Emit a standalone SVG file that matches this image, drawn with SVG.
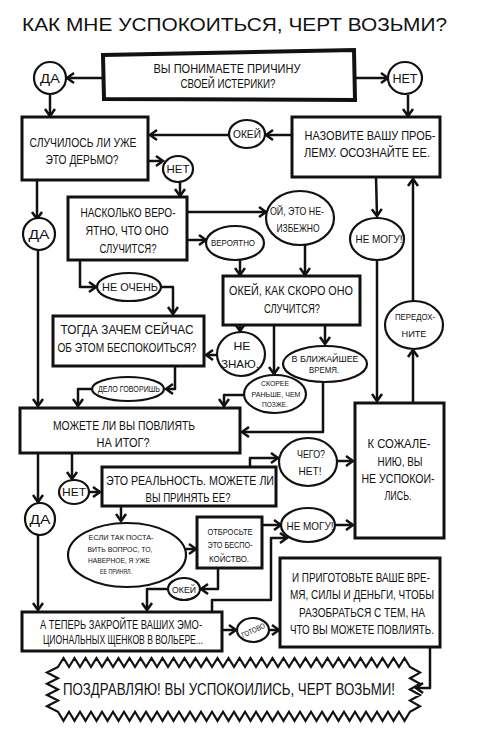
<svg xmlns="http://www.w3.org/2000/svg" width="477" height="732" viewBox="0 0 477 732">
<style>
text{font-family:"Liberation Sans","DejaVu Sans",sans-serif;fill:#111;text-anchor:middle}
.t13{font-size:12.5px}
.t11{font-size:11px}
.t9{font-size:9px}
.t8{font-size:7.5px}
.box{fill:#fff;stroke:#111;stroke-width:3}
.oval{fill:#fff;stroke:#111;stroke-width:2.2}
.ln{fill:none;stroke:#111;stroke-width:2.5;stroke-linejoin:round;marker-end:url(#ah)}
</style>
<defs>
<marker id="ah" markerUnits="userSpaceOnUse" markerWidth="12" markerHeight="12" refX="10" refY="6" orient="auto" overflow="visible">
<path d="M3,1 L10,6 L3,11" fill="none" stroke="#111" stroke-width="2.5" stroke-linejoin="miter"/>
</marker>
</defs>
<rect width="477" height="732" fill="#fff"/>
<text x="22" y="31" style="font-size:19px;text-anchor:start" textLength="425" lengthAdjust="spacingAndGlyphs">КАК МНЕ УСПОКОИТЬСЯ, ЧЕРТ ВОЗЬМИ?</text>

<g id="connectors">
<path class="ln" d="M103,78 L67,78"/>
<path class="ln" d="M354,78 L388,78"/>
<path class="ln" d="M50,94 L50,116"/>
<path class="ln" d="M408,95 L408,116"/>
<path class="ln" d="M292,135 L266,135"/>
<path class="ln" d="M229,135 L150,135"/>
<path class="ln" d="M148,161 L163,161"/>
<path class="ln" d="M180,181 L180,196"/>
<path class="ln" d="M37,180 L37,219"/>
<path class="ln" d="M38,250 L38,406"/>
<path class="ln" d="M187,212 L266,212"/>
<path class="ln" d="M187,240 L206,240"/>
<path class="ln" d="M240,260 L240,275"/>
<path class="ln" d="M305,245 L305,275"/>
<path class="ln" d="M80,260 L80,287 L96,287"/>
<path class="ln" d="M161,287 L173,287 L173,314"/>
<path class="ln" d="M376,177 L377,216"/>
<path class="ln" d="M377,260 L377,401"/>
<path class="ln" d="M413,403 L413,350"/>
<path class="ln" d="M413,302 L413,179"/>
<path class="ln" d="M240,325 L240,331"/>
<path class="ln" d="M218,355 L206,355"/>
<path class="ln" d="M274,325 L274,374"/>
<path class="ln" d="M244,395 L224,395 L224,406"/>
<path class="ln" d="M325,325 L325,344"/>
<path class="ln" d="M323,382 L323,432 L242,432"/>
<path class="ln" d="M175,366 L175,389 L166,389"/>
<path class="ln" d="M92,389 L78,389 L78,406"/>
<path class="ln" d="M72,453 L72,479"/>
<path class="ln" d="M89,492 L100,492"/>
<path class="ln" d="M38,453 L38,502"/>
<path class="ln" d="M38,535 L38,610"/>
<path class="ln" d="M250,467 L250,458 L278,458"/>
<path class="ln" d="M337,461 L353,461"/>
<path class="ln" d="M121,506 L121,521"/>
<path class="ln" d="M186,549 L196,549"/>
<path class="ln" d="M262,525 L281,525"/>
<path class="ln" d="M335,525 L353,525"/>
<path class="ln" d="M218,568 L218,589 L201,589"/>
<path class="ln" d="M168,589 L147,589 L147,610"/>
<path class="ln" d="M212,612 L212,600 L271,600 L271,538 L287,538"/>
<path class="ln" d="M222,630 L236,630"/>
<path class="ln" d="M269,630 L279,630"/>
<path class="ln" d="M430,647 L430,688 L416,688"/>
</g>

<g id="q-understand">
<path d="M103,55 L354,50 L355,100 L104,99 Z" fill="#fff" stroke="#111" stroke-width="4"/>
<text class="t13" x="227" y="73" textLength="147" lengthAdjust="spacingAndGlyphs">ВЫ ПОНИМАЕТЕ ПРИЧИНУ</text>
<text class="t13" x="228" y="88" textLength="95" lengthAdjust="spacingAndGlyphs">СВОЕЙ ИСТЕРИКИ?</text>
</g>
<g id="yes1"><ellipse class="oval" cx="50" cy="78" rx="16" ry="16"/><text class="t13" x="50" y="83" textLength="20" lengthAdjust="spacingAndGlyphs">ДА</text></g>
<g id="no1"><ellipse class="oval" cx="405" cy="78" rx="17" ry="16"/><text class="t13" x="405" y="83" textLength="25" lengthAdjust="spacingAndGlyphs">НЕТ</text></g>

<g id="q-happened">
<rect class="box" x="22" y="117" width="126" height="63"/>
<text class="t13" x="83" y="147" textLength="107" lengthAdjust="spacingAndGlyphs">СЛУЧИЛОСЬ ЛИ УЖЕ</text>
<text class="t13" x="82" y="164" textLength="73" lengthAdjust="spacingAndGlyphs">ЭТО ДЕРЬМО?</text>
</g>
<g id="okay1"><ellipse class="oval" cx="247" cy="134" rx="18" ry="14"/><text class="t11" x="247" y="138" textLength="28" lengthAdjust="spacingAndGlyphs">ОКЕЙ</text></g>
<g id="name-problem">
<rect class="box" x="292" y="117" width="148" height="60"/>
<text class="t13" x="370" y="140" textLength="131" lengthAdjust="spacingAndGlyphs">НАЗОВИТЕ ВАШУ ПРОБ-</text>
<text class="t13" x="367" y="157" textLength="126" lengthAdjust="spacingAndGlyphs">ЛЕМУ. ОСОЗНАЙТЕ ЕЕ.</text>
</g>
<g id="no2"><ellipse class="oval" cx="178" cy="169" rx="15" ry="13"/><text class="t11" x="178" y="173" textLength="23" lengthAdjust="spacingAndGlyphs">НЕТ</text></g>
<g id="yes2"><ellipse class="oval" cx="39" cy="234" rx="16" ry="16"/><text class="t13" x="39" y="239" textLength="21" lengthAdjust="spacingAndGlyphs">ДА</text></g>

<g id="q-likely">
<rect class="box" x="68" y="197" width="119" height="63"/>
<text class="t13" x="128" y="217" textLength="95" lengthAdjust="spacingAndGlyphs">НАСКОЛЬКО ВЕРО-</text>
<text class="t13" x="127" y="235" textLength="83" lengthAdjust="spacingAndGlyphs">ЯТНО, ЧТО ОНО</text>
<text class="t13" x="128" y="253" textLength="57" lengthAdjust="spacingAndGlyphs">СЛУЧИТСЯ?</text>
</g>
<g id="inevitable"><ellipse class="oval" cx="300" cy="218" rx="34" ry="27"/>
<text class="t11" x="297" y="215" textLength="54" lengthAdjust="spacingAndGlyphs">ОЙ, ЭТО НЕ-</text>
<text class="t11" x="298" y="232" textLength="43" lengthAdjust="spacingAndGlyphs">ИЗБЕЖНО</text></g>
<g id="likely"><ellipse class="oval" cx="235" cy="243" rx="29" ry="17"/><text class="t9" x="233" y="246" textLength="44" lengthAdjust="spacingAndGlyphs">ВЕРОЯТНО</text></g>
<g id="cant1"><ellipse class="oval" cx="377" cy="239" rx="27" ry="21"/><text class="t11" x="379" y="243" textLength="47" lengthAdjust="spacingAndGlyphs">НЕ МОГУ!</text></g>
<g id="not-very"><ellipse class="oval" cx="129" cy="287" rx="32" ry="14"/><text class="t11" x="130" y="291" textLength="56" lengthAdjust="spacingAndGlyphs">НЕ ОЧЕНЬ</text></g>

<g id="q-how-soon">
<rect class="box" x="223" y="276" width="137" height="49"/>
<text class="t13" x="291" y="295" textLength="124" lengthAdjust="spacingAndGlyphs">ОКЕЙ, КАК СКОРО ОНО</text>
<text class="t13" x="292" y="313" textLength="56" lengthAdjust="spacingAndGlyphs">СЛУЧИТСЯ?</text>
</g>
<g id="breathe"><ellipse class="oval" cx="414" cy="325" rx="29" ry="24"/>
<text class="t9" x="415" y="320" textLength="40" lengthAdjust="spacingAndGlyphs">ПЕРЕДОХ-</text>
<text class="t9" x="414" y="337" textLength="25" lengthAdjust="spacingAndGlyphs">НИТЕ</text></g>

<g id="why-worry">
<rect class="box" x="53" y="316" width="151" height="50"/>
<text class="t13" x="127" y="334" textLength="133" lengthAdjust="spacingAndGlyphs">ТОГДА ЗАЧЕМ СЕЙЧАС</text>
<text class="t13" x="127" y="352" textLength="139" lengthAdjust="spacingAndGlyphs">ОБ ЭТОМ БЕСПОКОИТЬСЯ?</text>
</g>
<g id="dont-know"><ellipse class="oval" cx="241" cy="354" rx="24" ry="22"/>
<text class="t11" x="242" y="350" textLength="17" lengthAdjust="spacingAndGlyphs">НЕ</text>
<text class="t11" x="240" y="368" textLength="38" lengthAdjust="spacingAndGlyphs">ЗНАЮ.</text></g>
<g id="sooner"><ellipse class="oval" cx="275" cy="394" rx="31" ry="19"/>
<text class="t8" x="275" y="386" textLength="28" lengthAdjust="spacingAndGlyphs">СКОРЕЕ</text>
<text class="t8" x="276" y="397" textLength="49" lengthAdjust="spacingAndGlyphs">РАНЬШЕ, ЧЕМ</text>
<text class="t8" x="275" y="407" textLength="26" lengthAdjust="spacingAndGlyphs">ПОЗЖЕ.</text></g>
<g id="soon"><ellipse class="oval" cx="325" cy="364" rx="42" ry="18"/>
<text class="t9" x="325" y="362" textLength="67" lengthAdjust="spacingAndGlyphs">В БЛИЖАЙШЕЕ</text>
<text class="t9" x="324" y="373" textLength="30" lengthAdjust="spacingAndGlyphs">ВРЕМЯ.</text></g>
<g id="right-you-are"><ellipse class="oval" cx="128" cy="389" rx="36" ry="12"/><text x="129" y="392" style="font-size:8.5px" textLength="62" lengthAdjust="spacingAndGlyphs">ДЕЛО ГОВОРИШЬ</text></g>

<g id="q-control">
<rect class="box" x="20" y="408" width="220" height="45"/>
<text class="t13" x="124" y="430" textLength="142" lengthAdjust="spacingAndGlyphs">МОЖЕТЕ ЛИ ВЫ ПОВЛИЯТЬ</text>
<text class="t13" x="123" y="447" textLength="53" lengthAdjust="spacingAndGlyphs">НА ИТОГ?</text>
</g>
<g id="sorry">
<rect class="box" x="355" y="403" width="89" height="135"/>
<text class="t13" x="399" y="448" textLength="63" lengthAdjust="spacingAndGlyphs">К СОЖАЛЕ-</text>
<text class="t13" x="400" y="466" textLength="45" lengthAdjust="spacingAndGlyphs">НИЮ, ВЫ</text>
<text class="t13" x="398" y="483" textLength="73" lengthAdjust="spacingAndGlyphs">НЕ УСПОКОИ-</text>
<text class="t13" x="398" y="500" textLength="27" lengthAdjust="spacingAndGlyphs">ЛИСЬ.</text>
</g>
<g id="no3"><ellipse class="oval" cx="74" cy="492" rx="15" ry="12"/><text class="t11" x="74" y="496" textLength="24" lengthAdjust="spacingAndGlyphs">НЕТ</text></g>
<g id="yes3"><ellipse class="oval" cx="40" cy="519" rx="15" ry="16"/><text class="t13" x="40" y="524" textLength="21" lengthAdjust="spacingAndGlyphs">ДА</text></g>
<g id="q-accept">
<rect class="box" x="102" y="467" width="174" height="39"/>
<text class="t13" x="190" y="485" textLength="168" lengthAdjust="spacingAndGlyphs">ЭТО РЕАЛЬНОСТЬ. МОЖЕТЕ ЛИ</text>
<text class="t13" x="188" y="502" textLength="85" lengthAdjust="spacingAndGlyphs">ВЫ ПРИНЯТЬ ЕЕ?</text>
</g>
<g id="what-no"><ellipse class="oval" cx="308" cy="462" rx="29" ry="24"/>
<text class="t11" x="311" y="458" textLength="28" lengthAdjust="spacingAndGlyphs">ЧЕГО?</text>
<text class="t11" x="310" y="475" textLength="23" lengthAdjust="spacingAndGlyphs">НЕТ!</text></g>
<g id="accepted"><ellipse class="oval" cx="127" cy="555" rx="59" ry="32"/>
<text class="t8" x="121" y="540" textLength="65" lengthAdjust="spacingAndGlyphs">ЕСЛИ ТАК ПОСТА-</text>
<text class="t8" x="120" y="552" textLength="65" lengthAdjust="spacingAndGlyphs">ВИТЬ ВОПРОС, ТО,</text>
<text class="t8" x="119" y="563" textLength="62" lengthAdjust="spacingAndGlyphs">НАВЕРНОЕ, Я УЖЕ</text>
<text class="t8" x="116" y="574" textLength="32" lengthAdjust="spacingAndGlyphs">ЕЕ ПРИНЯЛ.</text></g>
<g id="let-go">
<rect class="box" x="197" y="517" width="65" height="51"/>
<text class="t9" x="230" y="535" textLength="45" lengthAdjust="spacingAndGlyphs">ОТБРОСЬТЕ</text>
<text class="t9" x="230" y="548" textLength="45" lengthAdjust="spacingAndGlyphs">ЭТО БЕСПО-</text>
<text class="t9" x="229" y="562" textLength="40" lengthAdjust="spacingAndGlyphs">КОЙСТВО.</text>
</g>
<g id="cant2"><ellipse class="oval" cx="308" cy="525" rx="27" ry="17"/><text class="t11" x="310" y="530" textLength="47" lengthAdjust="spacingAndGlyphs">НЕ МОГУ!</text></g>
<g id="okay2"><ellipse class="oval" cx="184" cy="589" rx="16" ry="11"/><text class="t9" x="184" y="593" textLength="24" lengthAdjust="spacingAndGlyphs">ОКЕЙ</text></g>

<g id="puppies">
<rect class="box" x="22" y="612" width="200" height="39"/>
<text class="t13" x="121" y="629" textLength="162" lengthAdjust="spacingAndGlyphs">А ТЕПЕРЬ ЗАКРОЙТЕ ВАШИХ ЭМО-</text>
<text class="t13" x="123" y="644" textLength="160" lengthAdjust="spacingAndGlyphs">ЦИОНАЛЬНЫХ ЩЕНКОВ В ВОЛЬЕРЕ...</text>
</g>
<g id="done"><ellipse class="oval" cx="253" cy="630" rx="16" ry="12"/><text class="t8" x="253" y="633" textLength="25" lengthAdjust="spacingAndGlyphs" transform="rotate(-25 253 630)">ГОТОВО</text></g>
<g id="prepare">
<rect class="box" x="280" y="558" width="160" height="89"/>
<text class="t13" x="361" y="582" textLength="138" lengthAdjust="spacingAndGlyphs">И ПРИГОТОВЬТЕ ВАШЕ ВРЕ-</text>
<text class="t13" x="362" y="599" textLength="144" lengthAdjust="spacingAndGlyphs">МЯ, СИЛЫ И ДЕНЬГИ, ЧТОБЫ</text>
<text class="t13" x="362" y="617" textLength="126" lengthAdjust="spacingAndGlyphs">РАЗОБРАТЬСЯ С ТЕМ, НА</text>
<text class="t13" x="362" y="634" textLength="144" lengthAdjust="spacingAndGlyphs">ЧТО ВЫ МОЖЕТЕ ПОВЛИЯТЬ.</text>
</g>

<g id="congrats">
<path d="M58,667 l5.5,-9 l5.5,9 l5.5,-9 l5.5,9 l5.5,-9 l5.5,9 l5.5,-9 l5.5,9 l5.5,-9 l5.5,9 l5.5,-9 l5.5,9 l5.5,-9 l5.5,9 l5.5,-9 l5.5,9 l5.5,-9 l5.5,9 l5.5,-9 l5.5,9 l5.5,-9 l5.5,9 l5.5,-9 l5.5,9 l5.5,-9 l5.5,9 l5.5,-9 l5.5,9 l5.5,-9 l5.5,9 l5.5,-9 l5.5,9 l5.5,-9 l5.5,9 l5.5,-9 l5.5,9 l5.5,-9 l5.5,9 l5.5,-9 l5.5,9 l5.5,-9 l5.5,9 l5.5,-9 l5.5,9 l5.5,-9 l5.5,9 l5.5,-9 l5.5,9 l5.5,-9 l5.5,9 l5.5,-9 l5.5,9 l5.5,-9 l5.5,9 l5.5,-9 l5.5,9 l5.5,-9 l5.5,9 l5.5,-9 l5.5,9 l5.5,-9 l5.5,9 l5.5,-9 l5.5,9 l10,5.6 l-10,5.6 l10,5.6 l-10,5.6 l10,5.6 l-10,5.6 l10,5.6 l-10,5.6 l-5.5,9 l-5.5,-9 l-5.5,9 l-5.5,-9 l-5.5,9 l-5.5,-9 l-5.5,9 l-5.5,-9 l-5.5,9 l-5.5,-9 l-5.5,9 l-5.5,-9 l-5.5,9 l-5.5,-9 l-5.5,9 l-5.5,-9 l-5.5,9 l-5.5,-9 l-5.5,9 l-5.5,-9 l-5.5,9 l-5.5,-9 l-5.5,9 l-5.5,-9 l-5.5,9 l-5.5,-9 l-5.5,9 l-5.5,-9 l-5.5,9 l-5.5,-9 l-5.5,9 l-5.5,-9 l-5.5,9 l-5.5,-9 l-5.5,9 l-5.5,-9 l-5.5,9 l-5.5,-9 l-5.5,9 l-5.5,-9 l-5.5,9 l-5.5,-9 l-5.5,9 l-5.5,-9 l-5.5,9 l-5.5,-9 l-5.5,9 l-5.5,-9 l-5.5,9 l-5.5,-9 l-5.5,9 l-5.5,-9 l-5.5,9 l-5.5,-9 l-5.5,9 l-5.5,-9 l-5.5,9 l-5.5,-9 l-5.5,9 l-5.5,-9 l-5.5,9 l-5.5,-9 l-5.5,9 l-5.5,-9 l-11,-5.6 l11,-5.6 l-11,-5.6 l11,-5.6 l-11,-5.6 l11,-5.6 l-11,-5.6 l11,-5.6 Z" fill="#fff" stroke="#111" stroke-width="2.2" stroke-linejoin="miter"/>
<text x="229" y="695" style="font-size:16px" textLength="332" lengthAdjust="spacingAndGlyphs">ПОЗДРАВЛЯЮ! ВЫ УСПОКОИЛИСЬ, ЧЕРТ ВОЗЬМИ!</text>
</g>
</svg>
